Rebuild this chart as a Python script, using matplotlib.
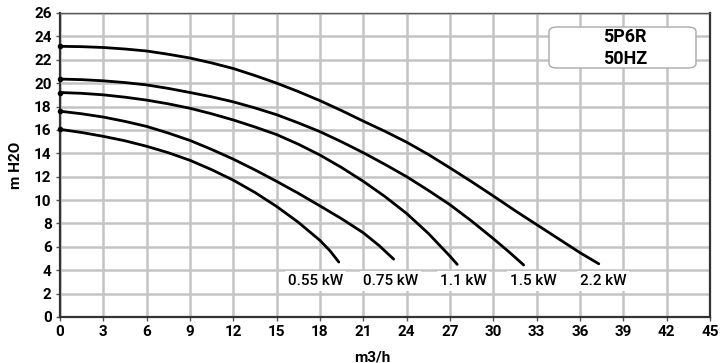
import matplotlib.pyplot as plt
from matplotlib.patches import FancyBboxPatch

plt.rcParams["font.family"] = ["Roboto", "DejaVu Sans"]

# pump curves (flow m3/h, head m H2O)
x_055 = [0, 1.5, 3, 4.5, 6, 7.5, 9, 10.5, 12, 13.5, 15, 16.5, 18, 18.7, 19.3]
y_055 = [16.05, 15.78, 15.45, 15.07, 14.6, 14.05, 13.4, 12.6, 11.7, 10.65, 9.45, 8.1, 6.55, 5.65, 4.7]

x_075 = [0, 1.5, 3, 4.5, 6, 7.5, 9, 10.5, 12, 13.5, 15, 16.5, 18, 19.5, 21, 22.1, 23.1]
y_075 = [17.6, 17.38, 17.1, 16.73, 16.3, 15.73, 15.1, 14.33, 13.5, 12.58, 11.6, 10.58, 9.5, 8.4,
         7.2, 6.1, 4.95]

x_11 = [0, 1.5, 3, 4.5, 6, 7.5, 9, 10.5, 12, 13.5, 15, 16.5, 18, 19.5, 21, 22.5, 24, 25.5, 27, 27.5]
y_11 = [19.2, 19.13, 19.0, 18.8, 18.55, 18.23, 17.85, 17.38, 16.85, 16.25, 15.6, 14.78, 13.85,
        12.78, 11.6, 10.3, 8.85, 7.15, 5.2, 4.5]

x_15 = [0, 1.5, 3, 4.5, 6, 7.5, 9, 10.5, 12, 13.5, 15, 16.5, 18, 19.5, 21, 22.5, 24, 25.5, 27,
        28.5, 30, 31.1, 32.1]
y_15 = [20.35, 20.3, 20.2, 20.05, 19.85, 19.55, 19.2, 18.83, 18.4, 17.88, 17.3, 16.6, 15.85,
        14.98, 14.05, 13.05, 12.0, 10.83, 9.6, 8.2, 6.7, 5.55, 4.45]

x_22 = [0, 1.5, 3, 4.5, 6, 7.5, 9, 10.5, 12, 13.5, 15, 16.5, 18, 19.5, 21, 22.5, 24, 25.5, 27,
        28.5, 30, 31.5, 33, 34.5, 36, 37.3]
y_22 = [23.15, 23.12, 23.05, 22.92, 22.75, 22.47, 22.15, 21.73, 21.25, 20.65, 20.0, 19.28, 18.5,
        17.65, 16.75, 15.88, 14.95, 13.9, 12.75, 11.57, 10.35, 9.1, 7.9, 6.7, 5.5, 4.55]

labels = ["0.55 kW", "0.75 kW", "1.1 kW", "1.5 kW", "2.2 kW"]
label_x = [17.7, 22.9, 27.9, 32.8, 37.6]
label_y = 3.1

xticks = list(range(0, 46, 3))
yticks = list(range(0, 27, 2))

fig = plt.figure(figsize=(7.22, 3.63), dpi=100)
ax = fig.add_axes([60 / 722, 46 / 363, 650 / 722, 304 / 363])

for xs, ys in [(x_055, y_055), (x_075, y_075), (x_11, y_11), (x_15, y_15), (x_22, y_22)]:
    ax.plot(xs, ys, color="black", lw=2.0, solid_capstyle="round", solid_joinstyle="round", zorder=3)
    ax.plot(xs[0], ys[0], "o", color="black", ms=3, zorder=4, clip_on=False)

for lab, lx in zip(labels, label_x):
    ax.text(lx, label_y, lab, ha="center", va="center", fontsize=11, fontweight="medium",
            bbox=dict(boxstyle="square,pad=0.2", fc="white", ec="none"), zorder=5)

ax.set_xlim(0, 45)
ax.set_ylim(0, 26)
ax.set_xticks(xticks)
ax.set_yticks(yticks)
ax.grid(True, color="#c4c4c4", lw=1.8, zorder=0)
ax.set_axisbelow(True)
ax.tick_params(axis="both", labelsize=11, length=3, width=1, color="#555555", pad=3)
for lbl in ax.get_xticklabels() + ax.get_yticklabels():
    lbl.set_fontweight("bold")

for side in ["left", "bottom", "right"]:
    ax.spines[side].set_linewidth(1.6)
    ax.spines[side].set_color("#333333")
ax.spines["top"].set_linewidth(1.0)
ax.spines["top"].set_color("#555555")

ax.set_xlabel("m3/h", fontsize=11, fontweight="bold", labelpad=4)
ax.xaxis.set_label_coords(0.48, -0.11)
ax.set_ylabel("m H2O", fontsize=11, fontweight="bold", labelpad=8)

# model box in the upper right
box = FancyBboxPatch((549 / 722, (363 - 68) / 363), 147 / 722, 41 / 363,
                     boxstyle="round,pad=0,rounding_size=0.012",
                     transform=fig.transFigure, fc="white", ec="#aaaaaa", lw=1.0, zorder=6)
fig.patches.append(box)
fig.text(625 / 722, (363 - 37) / 363, "5P6R", ha="center", va="center",
         fontsize=13, fontweight="bold", zorder=7)
fig.text(625 / 722, (363 - 59) / 363, "50HZ", ha="center", va="center",
         fontsize=13, fontweight="bold", zorder=7)

fig.savefig("out.png", dpi=100)
